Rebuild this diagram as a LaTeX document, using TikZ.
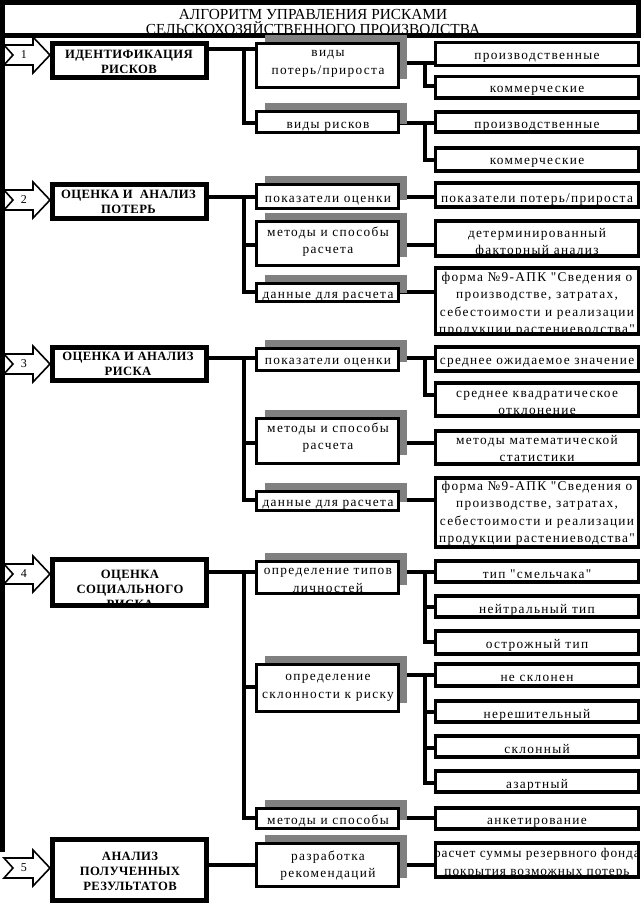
\documentclass[tikz,border=0pt]{standalone}
\usepackage{fontspec}
\setmainfont{Liberation Serif}
\newfontfamily\spacedfont[LetterSpace=10]{Liberation Serif}
\newfontfamily\narrowspaced[LetterSpace=7]{Liberation Serif}
\newfontfamily\boldspaced[LetterSpace=3]{Liberation Serif}
\usetikzlibrary{shadows}
\pgfdeclarelayer{bg}
\pgfsetlayers{bg,main}
\definecolor{shgray}{RGB}{128,128,128}
\newcommand\boxat[6]{%
 \pgfmathsetmacro\bw{(#5-#3)*0.75}%
 \pgfmathsetmacro\bh{(#6-#4)*0.75}%
 \node[#1, minimum width=\bw pt, minimum height=\bh pt] (#2) at ({(#3+#5)/2},{(#4+#6)/2}) {};}
\newcommand\blockarrow[3]{%
 \draw[arr] (4,{#2-10}) -- (33,{#2-10}) -- (33,{#2-18}) -- (50,#2) -- (33,{#2+18}) -- (33,{#2+10}) -- (4,{#2+10}) -- (13,#2) -- cycle;
 \node[numtxt] (#1) at (24,{#2}) {#3};}
\begin{document}
\begin{tikzpicture}[x=0.75pt,y=-0.75pt,
 conn/.style={line width=3pt},
 lvlone/.style={draw, line width=3.6pt, fill=white, inner sep=0pt},
 lvltwo/.style={draw, line width=2.3pt, fill=white, inner sep=0pt, general shadow={fill=shgray, shadow xshift=6pt, shadow yshift=6.75pt}},
 rbox/.style={draw, line width=2.3pt, fill=white, inner sep=0pt},
 strutted/.style={execute at begin node=\strut, execute at end node=\strut},
 txt/.style={align=center, inner sep=0pt, strutted, yshift=-2.25pt, font=\spacedfont\fontsize{10}{13}\selectfont},
 btxt/.style={align=center, inner sep=0pt, strutted, yshift=-2.25pt, font=\boldspaced\bfseries\fontsize{9.5}{11.25}\selectfont},
 ttxt/.style={align=center, inner sep=0pt, strutted, yshift=-1.5pt, font=\fontsize{11.5}{11.25}\selectfont},
 numtxt/.style={inner sep=0pt, font=\fontsize{9}{9}\selectfont},
 arr/.style={draw, fill=white, line width=1.2pt, line join=miter}]
\useasboundingbox (0,0) rectangle (641,904);
\begin{pgfonlayer}{bg}
\fill[white] (0,0) rectangle (641,904);
\end{pgfonlayer}

% title
\boxat{draw, line width=3.75pt}{title}{2.5}{2.5}{638.5}{35.5}
\node[ttxt] (title-t) at (313,22.5) {АЛГОРИТМ УПРАВЛЕНИЯ РИСКАМИ\\СЕЛЬСКОХОЗЯЙСТВЕННОГО ПРОИЗВОДСТВА};

% arrows and left bar
\blockarrow{n1}{55}{1}
\blockarrow{n2}{200}{2}
\blockarrow{n3}{364}{3}
\blockarrow{n4}{574}{4}
\blockarrow{n5}{868}{5}
\fill (0,0) rectangle (5,852);

% level one
\boxat{lvlone}{b1}{52.5}{43.5}{206.5}{77.5}
\node[btxt] (b1-t) at (129,61) {ИДЕНТИФИКАЦИЯ\\РИСКОВ};
\boxat{lvlone}{b2}{52.5}{184.5}{206.5}{218.5}
\node[btxt] (b2-t) at (128.5,201) {ОЦЕНКА И~~АНАЛИЗ\\ПОТЕРЬ};
\boxat{lvlone}{b3}{52.5}{347.5}{206.5}{380.5}
\node[btxt] (b3-t) at (128,363.5) {ОЦЕНКА И АНАЛИЗ\\РИСКА};
\boxat{lvlone}{b4}{52.5}{559.5}{206.5}{605.5}
\begin{scope}
\clip (52.5,559.5) rectangle (206.5,605.5);
\node[btxt] (b4-t) at (130,589) {ОЦЕНКА\\СОЦИАЛЬНОГО\\РИСКА};
\end{scope}
\boxat{lvlone}{b5}{52.5}{839.5}{206.5}{900.5}
\node[btxt] (b5-t) at (130,871) {АНАЛИЗ\\ПОЛУЧЕННЫХ\\РЕЗУЛЬТАТОВ};

% level two
\boxat{lvltwo}{vp}{256.5}{43.5}{398.5}{87.5}
\node[txt] (vp-t) at (328,62) {виды\\потерь/прироста};
\boxat{lvltwo}{vr}{256.5}{111.5}{398.5}{132.5}
\node[txt] (vr-t) at (328,122) {виды рисков};
\boxat{lvltwo}{po2}{256.5}{184.5}{398.5}{208.5}
\node[txt] (po2-t) at (328,196) {показатели оценки};
\boxat{lvltwo}{ms2}{256.5}{221.5}{398.5}{265.5}
\node[txt] (ms2-t) at (328,240) {методы и способы\\расчета};
\boxat{lvltwo}{dr2}{256.5}{283.5}{398.5}{301.5}
\node[txt] (dr2-t) at (328,292) {данные для расчета};
\boxat{lvltwo}{po3}{256.5}{348.5}{398.5}{370.5}
\node[txt] (po3-t) at (328,358) {показатели оценки};
\boxat{lvltwo}{ms3}{256.5}{418.5}{398.5}{463.5}
\node[txt] (ms3-t) at (328,436) {методы и способы\\расчета};
\boxat{lvltwo}{dr3}{256.5}{491.5}{398.5}{510.5}
\node[txt] (dr3-t) at (328,500) {данные для расчета};
\boxat{lvltwo}{ot}{256.5}{561.5}{398.5}{593.5}
\node[txt] (ot-t) at (328,580) {определение типов\\личностей};
\boxat{lvltwo}{os}{256.5}{664.5}{398.5}{711.5}
\node[txt] (os-t) at (328,686) {определение\\склонности к риску};
\boxat{lvltwo}{mm}{256.5}{808.5}{398.5}{828.5}
\node[txt] (mm-t) at (328,818) {методы и способы};
\boxat{lvltwo}{rr}{256.5}{843.5}{398.5}{886.5}
\node[txt] (rr-t) at (328,864) {разработка\\рекомендаций};

% right column
\boxat{rbox}{pr1}{435.5}{42.5}{638.5}{65.5}
\node[txt] (pr1-t) at (537,53) {производственные};
\boxat{rbox}{km1}{435.5}{76.5}{638.5}{98}
\node[txt] (km1-t) at (537,86) {коммерческие};
\boxat{rbox}{pr2}{435.5}{112}{638.5}{132}
\node[txt] (pr2-t) at (537,122) {производственные};
\boxat{rbox}{km2}{435.5}{148}{638.5}{171}
\node[txt] (km2-t) at (537,158) {коммерческие};
\boxat{rbox}{pp}{435.5}{183}{638.5}{207}
\node[txt] (pp-t) at (537,196) {показатели потерь/прироста};
\boxat{rbox}{df}{435.5}{221}{638.5}{256}
\node[txt] (df-t) at (537,241) {детерминированный\\факторный анализ};
\boxat{rbox}{f1}{435.5}{268}{638.5}{334}
\node[txt] (f1-t) at (537,302.5) {форма №9-АПК "Сведения о\\производстве, затратах,\\себестоимости и реализации\\продукции растениеводства"};
\boxat{rbox}{so}{435.5}{347}{638.5}{371}
\node[txt] (so-t) at (537,358) {среднее ожидаемое значение};
\boxat{rbox}{sk}{435.5}{383}{638.5}{416}
\node[txt] (sk-t) at (537,402.5) {среднее квадратическое\\отклонение};
\boxat{rbox}{mms}{435.5}{431}{638.5}{464}
\node[txt] (mms-t) at (537,448) {методы математической\\статистики};
\boxat{rbox}{f2}{435.5}{478}{638.5}{547}
\node[txt] (f2-t) at (537,511.5) {форма №9-АПК "Сведения о\\производстве, затратах,\\себестоимости и реализации\\продукции растениеводства"};
\boxat{rbox}{ts}{435.5}{561}{638.5}{582}
\node[txt] (ts-t) at (537,572) {тип "смельчака"};
\boxat{rbox}{nt}{435.5}{596}{638.5}{617}
\node[txt] (nt-t) at (537,607) {нейтральный тип};
\boxat{rbox}{ost}{435.5}{631}{638.5}{654}
\node[txt] (ost-t) at (537,642) {острожный тип};
\boxat{rbox}{ns}{435.5}{664}{638.5}{686}
\node[txt] (ns-t) at (537,675) {не склонен};
\boxat{rbox}{nr}{435.5}{701}{638.5}{722}
\node[txt] (nr-t) at (537,712) {нерешительный};
\boxat{rbox}{sl}{435.5}{736}{638.5}{757}
\node[txt] (sl-t) at (537,747) {склонный};
\boxat{rbox}{az}{435.5}{771}{638.5}{792}
\node[txt] (az-t) at (537,782) {азартный};
\boxat{rbox}{an}{435.5}{808}{638.5}{829}
\node[txt] (an-t) at (537,818) {анкетирование};
\boxat{rbox}{rs}{435.5}{843}{638.5}{877}
\node[txt, font=\narrowspaced\fontsize{10}{13}\selectfont] (rs-t) at (537,861.5) {расчет суммы резервного фонда\\покрытия возможных потерь};

% connectors
\begin{pgfonlayer}{bg}
\draw[conn] (b1.east |- 0,49) -- (vp.west |- 0,49);
\draw[conn] (244,49) |- (vr.west |- 0,123);
\draw[conn] (b2.east |- 0,197) -- (po2.west |- 0,197);
\draw[conn] (244,197) |- (dr2.west |- 0,292);
\draw[conn] (244,245) -- (ms2.west |- 0,245);
\draw[conn] (b3.east |- 0,358) -- (po3.west |- 0,358);
\draw[conn] (244,358) |- (dr3.west |- 0,500);
\draw[conn] (244,443) -- (ms3.west |- 0,443);
\draw[conn] (b4.east |- 0,572) -- (ot.west |- 0,572);
\draw[conn] (244,572) |- (mm.west |- 0,818);
\draw[conn] (244,687) -- (os.west |- 0,687);
\draw[conn] (b5.east |- 0,865) -- (rr.west |- 0,865);

\draw[conn] (vp.east |- 0,63) -- (pr1.west |- 0,63);
\draw[conn] (425,63) |- (km1.west |- 0,86);
\draw[conn] (vr.east |- 0,123) -- (pr2.west |- 0,123);
\draw[conn] (425,123) |- (km2.west |- 0,160);
\draw[conn] (po2.east |- 0,197) -- (pp.west |- 0,197);
\draw[conn] (ms2.east |- 0,245) -- (df.west |- 0,245);
\draw[conn] (dr2.east |- 0,292) -- (f1.west |- 0,292);
\draw[conn] (po3.east |- 0,358) -- (so.west |- 0,358);
\draw[conn] (425,358) |- (sk.west |- 0,395);
\draw[conn] (ms3.east |- 0,443) -- (mms.west |- 0,443);
\draw[conn] (dr3.east |- 0,500) -- (f2.west |- 0,500);
\draw[conn] (ot.east |- 0,572) -- (ts.west |- 0,572);
\draw[conn] (425,572) |- (ost.west |- 0,642);
\draw[conn] (425,607) -- (nt.west |- 0,607);
\draw[conn] (os.east |- 0,675) -- (ns.west |- 0,675);
\draw[conn] (425,675) |- (az.west |- 0,783);
\draw[conn] (425,712) -- (nr.west |- 0,712);
\draw[conn] (425,748) -- (sl.west |- 0,748);
\draw[conn] (mm.east |- 0,818) -- (an.west |- 0,818);
\draw[conn] (rr.east |- 0,865) -- (rs.west |- 0,865);
\end{pgfonlayer}
\end{tikzpicture}
\end{document}
